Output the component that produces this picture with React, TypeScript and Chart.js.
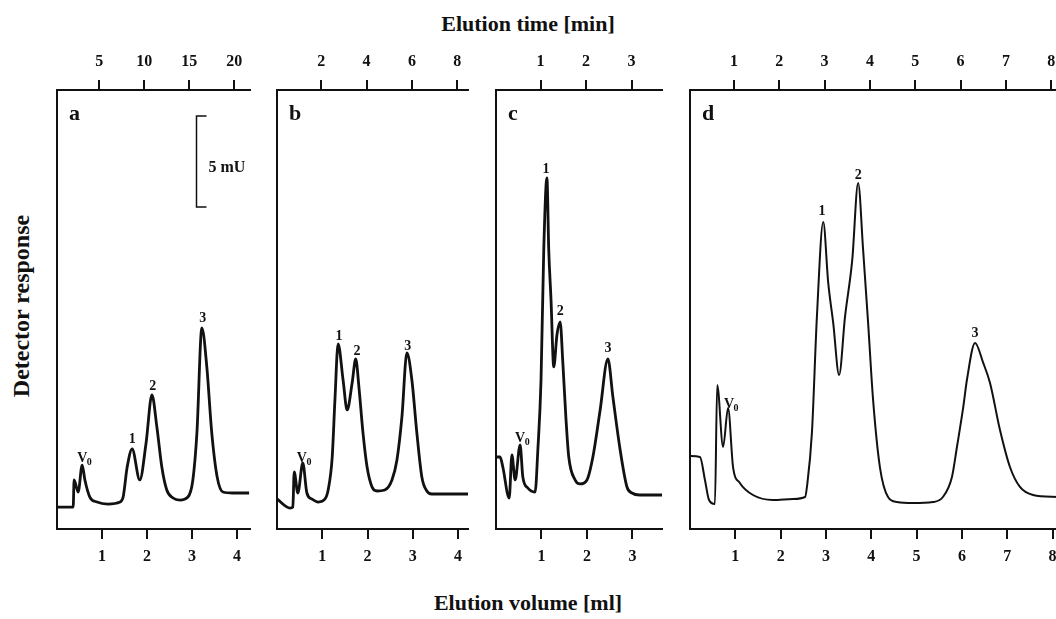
import React, { useEffect, useRef } from "react";
import { Chart, registerables } from "chart.js";

Chart.register(...registerables);

// ---------------- data (elution volume in ml, detector response in a.u.) ----------------
// Panel a
const A_VOLUME = [0.0, 0.36, 0.38, 0.47, 0.56, 0.62, 0.73, 0.89, 1.13, 1.4, 1.47, 1.56, 1.67, 1.84, 1.98, 2.11, 2.22, 2.33, 2.44, 2.58, 2.73, 2.91, 3.02, 3.11, 3.22, 3.33, 3.44, 3.56, 3.69, 3.91, 4.27];
const A_RESPONSE = [1.75, 1.75, 3.91, 2.95, 5.1, 3.91, 2.55, 2.15, 1.99, 2.15, 2.55, 4.94, 6.38, 3.91, 6.86, 10.69, 8.13, 4.94, 3.11, 2.47, 2.31, 2.55, 3.91, 7.66, 16.03, 12.92, 7.66, 4.15, 2.95, 2.87, 2.87];
const A_ML_TICKS = [1, 2, 3, 4];
const A_MIN_TICKS = [5, 10, 15, 20];
const A_PEAKS = ["V0", "1", "2", "3"];
const A_PEAK_X = [0.56, 1.67, 2.13, 3.24];
const A_PEAK_Y = [5.34, 6.86, 11.08, 16.51];

// Panel b
const B_VOLUME = [0.0, 0.29, 0.35, 0.38, 0.46, 0.57, 0.66, 0.77, 0.91, 1.06, 1.13, 1.22, 1.28, 1.35, 1.46, 1.55, 1.66, 1.74, 1.81, 1.9, 1.99, 2.1, 2.21, 2.38, 2.54, 2.65, 2.76, 2.87, 2.98, 3.09, 3.2, 3.31, 3.42, 4.22];
const B_RESPONSE = [2.39, 1.67, 1.75, 4.55, 2.87, 5.26, 2.87, 2.39, 2.15, 2.39, 3.11, 5.74, 10.29, 14.75, 11.88, 9.49, 11.64, 13.56, 11.32, 7.66, 4.94, 3.35, 3.03, 3.11, 3.91, 5.5, 8.93, 14.04, 11.88, 7.66, 4.15, 3.03, 2.79, 2.79];
const B_ML_TICKS = [1, 2, 3, 4];
const B_MIN_TICKS = [2, 4, 6, 8];
const B_PEAKS = ["V0", "1", "2", "3"];
const B_PEAK_X = [0.55, 1.37, 1.77, 2.89];
const B_PEAK_Y = [5.34, 15.07, 13.88, 14.27];

// Panel c
const C_VOLUME = [0.0, 0.09, 0.15, 0.29, 0.35, 0.42, 0.53, 0.59, 0.7, 0.86, 0.92, 0.99, 1.05, 1.12, 1.16, 1.21, 1.27, 1.34, 1.41, 1.47, 1.54, 1.6, 1.74, 1.85, 2.0, 2.13, 2.29, 2.46, 2.57, 2.73, 2.88, 2.99, 3.16, 3.65];
const C_RESPONSE = [5.74, 5.74, 4.94, 2.47, 5.9, 3.91, 6.7, 4.15, 3.27, 2.95, 6.3, 11.88, 22.25, 27.99, 22.25, 18.26, 12.92, 15.47, 16.51, 13.24, 8.69, 5.74, 3.91, 3.59, 3.91, 5.74, 9.49, 13.56, 10.53, 6.3, 3.35, 2.87, 2.71, 2.71];
const C_ML_TICKS = [1, 2, 3];
const C_MIN_TICKS = [1, 2, 3];
const C_PEAKS = ["V0", "1", "2", "3"];
const C_PEAK_X = [0.53, 1.1, 1.41, 2.46];
const C_PEAK_Y = [6.94, 28.39, 17.07, 14.11];

// Panel d
const D_VOLUME = [0.0, 0.22, 0.33, 0.42, 0.55, 0.6, 0.73, 0.84, 0.95, 1.1, 1.39, 1.83, 2.27, 2.54, 2.58, 2.69, 2.8, 2.94, 3.05, 3.16, 3.29, 3.42, 3.58, 3.71, 3.82, 3.93, 4.04, 4.19, 4.37, 4.57, 4.92, 5.36, 5.58, 5.78, 5.89, 6.03, 6.11, 6.29, 6.47, 6.62, 6.84, 7.06, 7.28, 7.57, 8.12];
const D_RESPONSE = [5.82, 5.74, 3.91, 2.31, 1.99, 11.48, 6.54, 9.65, 4.94, 3.67, 2.71, 2.31, 2.39, 2.55, 3.35, 7.66, 16.91, 24.48, 19.62, 16.43, 12.28, 16.91, 21.45, 27.59, 22.25, 16.43, 10.29, 4.94, 2.55, 2.15, 2.07, 2.15, 2.55, 4.15, 6.54, 9.73, 11.88, 14.83, 13.24, 11.64, 7.89, 4.94, 3.35, 2.71, 2.55];
const D_ML_TICKS = [1, 2, 3, 4, 5, 6, 7, 8];
const D_MIN_TICKS = [1, 2, 3, 4, 5, 6, 7, 8];
const D_PEAKS = ["V0", "1", "2", "3"];
const D_PEAK_X = [0.86, 2.91, 3.71, 6.29];
const D_PEAK_Y = [9.65, 25.04, 27.91, 15.31];

// Scale bar (panel a)
const SCALE_BAR_ML = 3.09;
const SCALE_BAR_FROM = 25.68;
const SCALE_BAR_TO = 32.93;
const SCALE_BAR_LABEL = "5 mU";

const Y_MAX = 35;

// ---------------- styling / layout ----------------
const INK = "#111111";
const SERIF = "'Liberation Serif', 'Times New Roman', serif";
const CANVAS_TOP = 40;
const CANVAS_H = 540;
const TOP_AXIS_H = 50;
const BOTTOM_AXIS_H = 51;
const PAD = 15;

type PanelDef = {
  key: string;
  letter: string;
  volume: number[];
  response: number[];
  mlMax: number;
  mlTicks: number[];
  timeMin: number;
  timeMax: number;
  timeTicks: number[];
  peaks: string[];
  peakX: number[];
  peakY: number[];
  lineWidth: number;
  left: number;
  right: number;
  scaleBar: boolean;
};

const PANELS: PanelDef[] = [
  { key: "a", letter: "a", volume: A_VOLUME, response: A_RESPONSE, mlMax: 4.29, mlTicks: A_ML_TICKS, timeMin: 0.3, timeMax: 21.75, timeTicks: A_MIN_TICKS, peaks: A_PEAKS, peakX: A_PEAK_X, peakY: A_PEAK_Y, lineWidth: 2.8, left: 57, right: 250, scaleBar: true },
  { key: "b", letter: "b", volume: B_VOLUME, response: B_RESPONSE, mlMax: 4.22, mlTicks: B_ML_TICKS, timeMin: 0.04, timeMax: 8.48, timeTicks: B_MIN_TICKS, peaks: B_PEAKS, peakX: B_PEAK_X, peakY: B_PEAK_Y, lineWidth: 2.8, left: 277, right: 468, scaleBar: false },
  { key: "c", letter: "c", volume: C_VOLUME, response: C_RESPONSE, mlMax: 3.65, mlTicks: C_ML_TICKS, timeMin: 0.02, timeMax: 3.67, timeTicks: C_MIN_TICKS, peaks: C_PEAKS, peakX: C_PEAK_X, peakY: C_PEAK_Y, lineWidth: 2.8, left: 496, right: 662, scaleBar: false },
  { key: "d", letter: "d", volume: D_VOLUME, response: D_RESPONSE, mlMax: 8.12, mlTicks: D_ML_TICKS, timeMin: 0.03, timeMax: 8.15, timeTicks: D_MIN_TICKS, peaks: D_PEAKS, peakX: D_PEAK_X, peakY: D_PEAK_Y, lineWidth: 2.0, left: 690, right: 1058, scaleBar: false },
];

function makeAnnotations(def: PanelDef) {
  return {
    id: "annot-" + def.key,
    afterDatasetsDraw(chart: any) {
      const { ctx, chartArea, scales } = chart;
      const xs = scales.x;
      const ys = scales.y;
      ctx.save();
      ctx.fillStyle = INK;
      ctx.strokeStyle = INK;
      // panel letter
      ctx.font = `bold 22px ${SERIF}`;
      ctx.textAlign = "left";
      ctx.textBaseline = "alphabetic";
      ctx.fillText(def.letter, chartArea.left + 12, chartArea.top + 30);
      // peak labels
      def.peaks.forEach((t, i) => {
        const px = xs.getPixelForValue(def.peakX[i]);
        const py = ys.getPixelForValue(def.peakY[i]);
        ctx.font = `bold 14px ${SERIF}`;
        ctx.textAlign = "center";
        if (t === "V0") {
          ctx.fillText("V", px, py);
          const w = ctx.measureText("V").width;
          ctx.font = `bold 10px ${SERIF}`;
          ctx.textAlign = "left";
          ctx.fillText("0", px + w / 2 - 0.5, py + 3);
        } else {
          ctx.fillText(t, px, py);
        }
      });
      // scale bar
      if (def.scaleBar) {
        const bx = Math.round(xs.getPixelForValue(SCALE_BAR_ML)) + 0.5;
        const top = ys.getPixelForValue(SCALE_BAR_TO);
        const bot = ys.getPixelForValue(SCALE_BAR_FROM);
        ctx.lineWidth = 1.5;
        ctx.beginPath();
        ctx.moveTo(bx + 10, top);
        ctx.lineTo(bx, top);
        ctx.lineTo(bx, bot);
        ctx.lineTo(bx + 10, bot);
        ctx.stroke();
        ctx.font = `bold 16px ${SERIF}`;
        ctx.textAlign = "left";
        ctx.textBaseline = "middle";
        ctx.fillText(SCALE_BAR_LABEL, bx + 12, (top + bot) / 2 + 6);
      }
      ctx.restore();
    },
  };
}

function axisCommon() {
  return {
    grid: { display: true, drawOnChartArea: false, drawTicks: true, tickLength: 10, color: INK, lineWidth: 2 },
    border: { display: true, color: INK, width: 2 },
  };
}

function Panel({ def }: { def: PanelDef }) {
  const ref = useRef<HTMLCanvasElement | null>(null);
  const width = def.right - def.left + PAD * 2;
  useEffect(() => {
    const canvas = ref.current;
    if (!canvas) return;
    const tickFont = { family: SERIF, size: 16, weight: "bold" as const };
    const chart = new Chart(canvas, {
      type: "line",
      data: {
        datasets: [
          {
            data: def.volume.map((v, i) => ({ x: v, y: def.response[i] })),
            borderColor: INK,
            borderWidth: def.lineWidth,
            pointRadius: 0,
            fill: false,
            cubicInterpolationMode: "monotone",
            xAxisID: "x",
            yAxisID: "y",
          },
        ],
      },
      options: {
        responsive: false,
        animation: false,
        events: [],
        layout: { padding: { left: PAD, right: PAD, top: 0, bottom: 0 } },
        plugins: { legend: { display: false }, tooltip: { enabled: false } },
        scales: {
          x: {
            type: "linear",
            position: "bottom",
            min: 0,
            max: def.mlMax,
            ...axisCommon(),
            ticks: { color: INK, font: tickFont, padding: 8, maxRotation: 0, autoSkip: false, callback: (v: any) => String(v) },
            afterBuildTicks: (s: any) => {
              s.ticks = def.mlTicks.map((v) => ({ value: v }));
            },
            afterFit: (s: any) => {
              s.height = BOTTOM_AXIS_H;
            },
          },
          xTop: {
            type: "linear",
            position: "top",
            min: def.timeMin,
            max: def.timeMax,
            ...axisCommon(),
            ticks: { color: INK, font: tickFont, padding: 9, maxRotation: 0, autoSkip: false, callback: (v: any) => String(v) },
            afterBuildTicks: (s: any) => {
              s.ticks = def.timeTicks.map((v) => ({ value: v }));
            },
            afterFit: (s: any) => {
              s.height = TOP_AXIS_H;
            },
          },
          y: {
            type: "linear",
            position: "left",
            min: 0,
            max: Y_MAX,
            display: true,
            grid: { display: false },
            border: { display: true, color: INK, width: 2 },
            ticks: { display: false },
            afterFit: (s: any) => {
              s.width = 0;
            },
          },
        },
      } as any,
      plugins: [makeAnnotations(def) as any],
    });
    return () => chart.destroy();
  }, [def]);
  return (
    <canvas
      ref={ref}
      width={width}
      height={CANVAS_H}
      style={{ position: "absolute", left: def.left - PAD, top: CANVAS_TOP, width, height: CANVAS_H }}
    />
  );
}

export default function App() {
  const titleStyle: React.CSSProperties = {
    position: "absolute",
    left: 0,
    width: 1056,
    textAlign: "center",
    fontFamily: SERIF,
    fontWeight: "bold",
    fontSize: 22,
    lineHeight: "22px",
    color: INK,
    whiteSpace: "nowrap",
  };
  return (
    <div style={{ position: "absolute", left: 0, top: 0, width: 1056, height: 619, overflow: "hidden", background: "#ffffff" }}>
      <div style={{ ...titleStyle, top: 13 }}>Elution time [min]</div>
      <div style={{ ...titleStyle, top: 592 }}>Elution volume [ml]</div>
      <div
        style={{
          position: "absolute",
          left: 21,
          top: 306,
          transform: "translate(-50%, -50%) rotate(-90deg)",
          fontFamily: SERIF,
          fontWeight: "bold",
          fontSize: 24,
          lineHeight: "24px",
          color: INK,
          whiteSpace: "nowrap",
        }}
      >
        Detector response
      </div>
      {PANELS.map((p) => (
        <Panel key={p.key} def={p} />
      ))}
    </div>
  );
}
